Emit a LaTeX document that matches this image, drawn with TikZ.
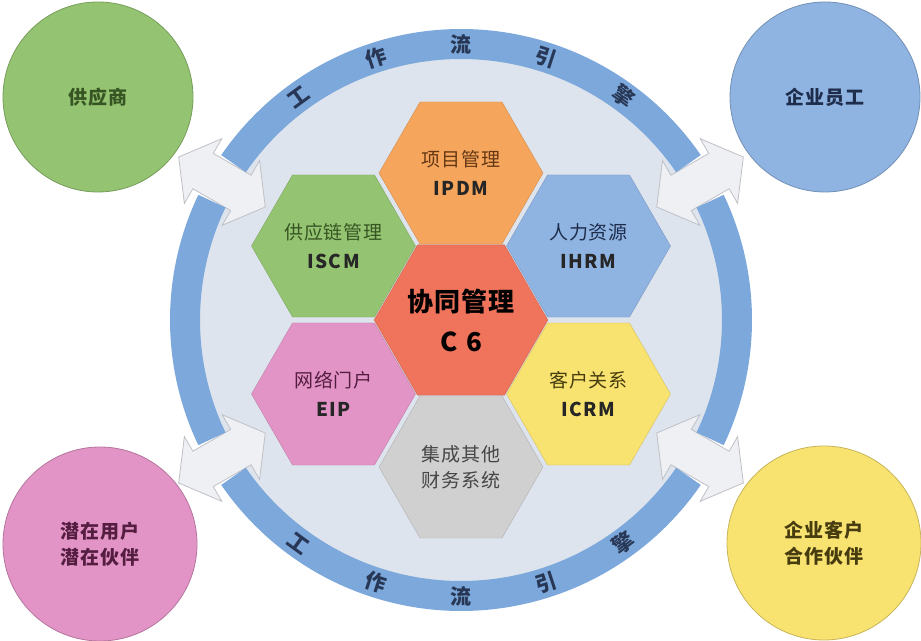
\documentclass[tikz,border=0pt]{standalone}
\usepackage{fontspec}
\setmainfont{Noto Sans CJK SC}
\usetikzlibrary{shapes.geometric}
\usetikzlibrary{shapes.arrows}

\definecolor{ringblue}{RGB}{124,168,219}
\definecolor{diskgray}{RGB}{222,228,238}
\definecolor{ringtext}{RGB}{40,55,85}
\definecolor{grnfill}{RGB}{148,196,114}
\definecolor{grntext}{RGB}{55,85,35}
\definecolor{orgfill}{RGB}{246,166,92}
\definecolor{orgtext}{RGB}{100,55,20}
\definecolor{blufill}{RGB}{143,180,226}
\definecolor{blutext}{RGB}{30,45,75}
\definecolor{redfill}{RGB}{240,116,92}
\definecolor{pnkfill}{RGB}{226,148,198}
\definecolor{pnktext}{RGB}{85,30,65}
\definecolor{ylwfill}{RGB}{248,226,112}
\definecolor{ylwtext}{RGB}{70,60,15}
\definecolor{gryfill}{RGB}{208,208,208}
\definecolor{grytext}{RGB}{70,70,70}
\definecolor{arrfill}{RGB}{238,240,244}
\definecolor{arrline}{RGB}{192,192,198}

\newcommand{\modcode}[1]{{\fontsize{19}{29}\selectfont\bfseries\addfontfeature{LetterSpace=8}\color{black!85}#1}}

\begin{document}
\begin{tikzpicture}[x=1pt, y=1pt]
  \tikzstyle{hexa}=[regular polygon, regular polygon sides=6, minimum size=164pt, inner sep=0pt, outer sep=0pt, thin, align=center, font=\fontsize{19}{29}\selectfont\addfontfeature{LetterSpace=5}]
  \tikzstyle{party}=[circle, minimum size=190pt, inner sep=0pt, thick, align=center, font=\fontsize{19}{26}\selectfont\bfseries\addfontfeature{LetterSpace=6}]
  \tikzstyle{link}=[double arrow, draw=arrline, fill=arrfill, thick, minimum height=100pt, inner xsep=0pt, inner ysep=20pt, double arrow head extend=17pt, double arrow tip angle=106]
  \tikzstyle{ring}=[ringblue, line width=30pt]
  \tikzstyle{ringtxt}=[text=ringtext, font=\fontsize{21}{21}\selectfont\bfseries, inner sep=0pt]

  \useasboundingbox (0,0) rectangle (921,640);

  \coordinate (c) at (461,320);
  \fill[diskgray] (c) circle[radius=262];

  % arrows to the partners
  \foreach \a/\n in {150/aSup, 30/aEmp, 210/aPot, 330/aCus}
    \node[link, rotate=\a] (\n) at ([shift={(\a:276)}]c) {};

  % workflow ring
  \draw[ring] ([shift={(34.5:276)}]c) arc[start angle=34.5, end angle=145.5, radius=276];
  \draw[ring] ([shift={(154.5:276)}]c) arc[start angle=154.5, end angle=205.5, radius=276];
  \draw[ring] ([shift={(214.5:276)}]c) arc[start angle=214.5, end angle=325.5, radius=276];
  \draw[ring] ([shift={(334.5:276)}]c) arc[start angle=334.5, end angle=385.5, radius=276];

  \foreach \a/\ch in {126/工, 108/作, 90/流, 72/引, 54/擎}
    \node[ringtxt, rotate=\a-90] at ([shift={(\a:276)}]c) {\ch};
  \foreach \a/\ch in {234/工, 252/作, 270/流, 288/引, 306/擎}
    \node[ringtxt, rotate=\a+90] at ([shift={(\a:276)}]c) {\ch};

  % partners
  \node[party, fill=grnfill, draw=grnfill!80!black, text=grntext] (sup) at (98,543) {供应商};
  \node[party, fill=blufill, draw=blufill!80!black, text=blutext] (emp) at (825,543) {企业员工};
  \node[party, fill=pnkfill, draw=pnkfill!80!black, text=pnktext, minimum size=194pt] (pot) at (100,96) {潜在用户\\潜在伙伴};
  \node[party, fill=ylwfill, draw=ylwfill!80!black, text=ylwtext, minimum size=194pt] (cus) at (824,97) {企业客户\\合作伙伴};

  % modules
  \node[hexa, fill=redfill, draw=redfill!85!black, font=\fontsize{26}{40}\selectfont\bfseries\addfontfeature{LetterSpace=3}] (c6) at (c) {协同管理\\C\,\,6};
  \node[hexa, fill=orgfill, draw=orgfill!85!black, text=orgtext] (ipdm) at (461,467) {项目管理\\\modcode{IPDM}};
  \node[hexa, fill=grnfill, draw=grnfill!85!black, text=grntext] (iscm) at (333.5,394) {供应链管理\\\modcode{ISCM}};
  \node[hexa, fill=blufill, draw=blufill!85!black, text=blutext] (ihrm) at (588.5,394) {人力资源\\\modcode{IHRM}};
  \node[hexa, fill=pnkfill, draw=pnkfill!85!black, text=pnktext] (eip) at (333.5,246) {网络门户\\\modcode{EIP}};
  \node[hexa, fill=ylwfill, draw=ylwfill!85!black, text=ylwtext] (icrm) at (588.5,246) {客户关系\\\modcode{ICRM}};
  \node[hexa, fill=gryfill, draw=gryfill!85!black, text=grytext, font=\fontsize{19}{26}\selectfont\addfontfeature{LetterSpace=5}] (fin) at (461,173) {集成其他\\财务系统};

\end{tikzpicture}
\end{document}
